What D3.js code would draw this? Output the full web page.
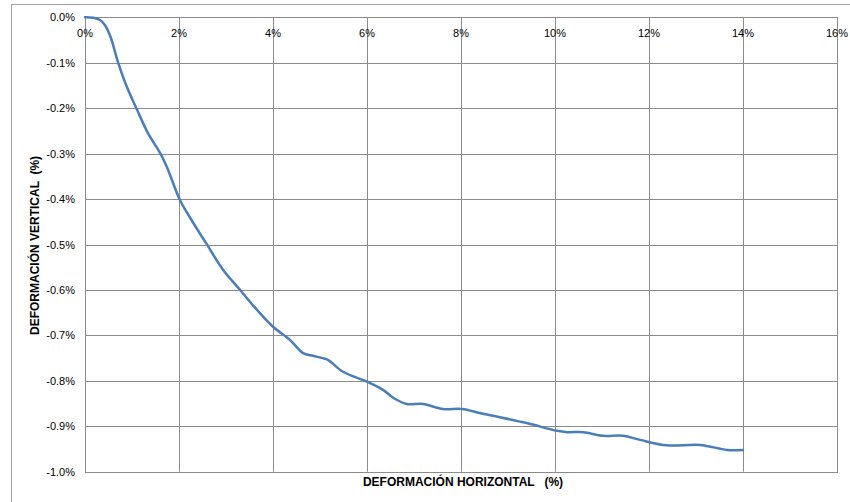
<!DOCTYPE html>
<html><head><meta charset="utf-8">
<script src="https://cdn.jsdelivr.net/npm/d3@7"></script>
<style>
html,body{margin:0;padding:0;background:#fff;}
svg{display:block;font-family:"Liberation Sans",Arial,sans-serif;}
</style></head>
<body><svg id="c" width="850" height="502"></svg>
<script>
// Data (percent units)
const horizontal = [0, 0.18, 0.32, 0.43, 0.55, 0.70, 0.89, 1.11, 1.34, 1.60, 1.74, 2.02, 2.23, 2.60, 2.94, 3.30, 3.66, 4.00, 4.36, 4.64, 4.85, 5.06, 5.17, 5.49, 6.00, 6.34, 6.60, 6.85, 7.19, 7.62, 8.02, 8.40, 8.68, 9.40, 10.04, 10.26, 10.60, 11.02, 11.45, 11.81, 12.38, 13.09, 13.66, 14.0];
const vertical   = [0, -0.001, -0.006, -0.018, -0.045, -0.098, -0.153, -0.204, -0.255, -0.299, -0.329, -0.402, -0.440, -0.501, -0.556, -0.600, -0.644, -0.681, -0.710, -0.739, -0.745, -0.750, -0.754, -0.780, -0.802, -0.820, -0.840, -0.851, -0.851, -0.862, -0.862, -0.871, -0.877, -0.893, -0.910, -0.913, -0.913, -0.921, -0.921, -0.930, -0.942, -0.941, -0.952, -0.952];
const xTicks = [0, 2, 4, 6, 8, 10, 12, 14, 16];
const xTickLabels = ["0%", "2%", "4%", "6%", "8%", "10%", "12%", "14%", "16%"];
const yTicks = [0, -0.1, -0.2, -0.3, -0.4, -0.5, -0.6, -0.7, -0.8, -0.9, -1.0];
const yTickLabels = ["0.0%", "-0.1%", "-0.2%", "-0.3%", "-0.4%", "-0.5%", "-0.6%", "-0.7%", "-0.8%", "-0.9%", "-1.0%"];
const xTitle = "DEFORMACIÓN HORIZONTAL   (%)";
const yTitle = "DEFORMACIÓN VERTICAL  (%)";

const svg = d3.select("#c");
const L = 85, R = 837, T = 17.3, B = 471.7;
const x = d3.scaleLinear().domain([0, 16]).range([L, R]);
const y = d3.scaleLinear().domain([-1.0, 0]).range([B, T]);

// outer chart frame
svg.append("rect").attr("x", 11.5).attr("y", 4.5).attr("width", 900).attr("height", 600)
  .attr("fill", "none").attr("stroke", "#a0a0a0").attr("stroke-width", 1);

const grid = "#8c8c8c";
svg.append("g").selectAll("line").data(yTicks).join("line")
  .attr("x1", L).attr("x2", R)
  .attr("y1", d => Math.round(y(d)) + 0.5).attr("y2", d => Math.round(y(d)) + 0.5)
  .attr("stroke", grid).attr("stroke-width", 1);
svg.append("g").selectAll("line").data(xTicks).join("line")
  .attr("y1", T).attr("y2", B)
  .attr("x1", d => Math.round(x(d)) + 0.5).attr("x2", d => Math.round(x(d)) + 0.5)
  .attr("stroke", grid).attr("stroke-width", 1);
svg.append("rect").attr("x", Math.round(L) + 0.5).attr("y", Math.round(T) + 0.5)
  .attr("width", Math.round(R) - Math.round(L)).attr("height", Math.round(B) - Math.round(T))
  .attr("fill", "none").attr("stroke", grid);

svg.append("g").selectAll("text").data(xTicks).join("text")
  .attr("x", d => x(d)).attr("y", 37)
  .attr("text-anchor", "middle").attr("font-size", 11).attr("fill", "#000")
  .text((d, i) => xTickLabels[i]);
svg.append("g").selectAll("text").data(yTicks).join("text")
  .attr("x", 75).attr("y", d => y(d) + 4)
  .attr("text-anchor", "end").attr("font-size", 11).attr("fill", "#000")
  .text((d, i) => yTickLabels[i]);

const line = d3.line().x(d => x(d[0])).y(d => y(d[1])).curve(d3.curveCatmullRom.alpha(0.5));
svg.append("path").datum(horizontal.map((h, i) => [h, vertical[i]]))
  .attr("d", line).attr("fill", "none").attr("stroke", "#4a7ebb").attr("stroke-width", 2.5)
  .attr("stroke-linejoin", "round").attr("stroke-linecap", "round");

svg.append("text").attr("x", 463).attr("y", 486).attr("text-anchor", "middle")
  .attr("font-size", 12).attr("font-weight", "bold")
  .style("white-space", "pre").text(xTitle);
svg.append("text").attr("transform", "translate(39,335) rotate(-90)").attr("text-anchor", "start")
  .attr("font-size", 12).attr("font-weight", "bold").style("white-space", "pre").text(yTitle);
</script></body></html>
